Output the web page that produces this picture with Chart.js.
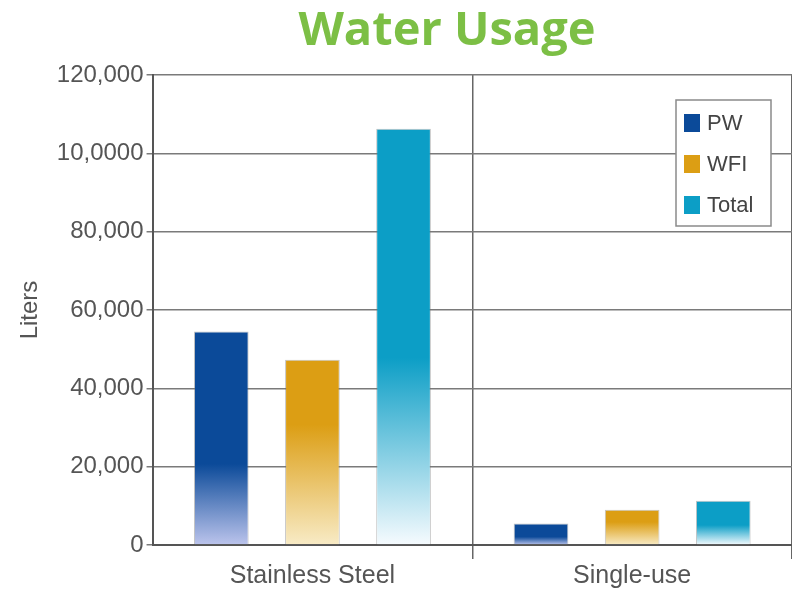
<!DOCTYPE html>
<html>
<head>
<meta charset="utf-8">
<script src="https://cdn.jsdelivr.net/npm/chart.js@4.4.1/dist/chart.umd.min.js"></script>
<style>
  html, body { margin: 0; padding: 0; background: #fff; }
  #wrap { width: 792px; height: 594px; position: relative; }
</style>
</head>
<body>
<div id="wrap"><canvas id="myChart"></canvas></div>
<script>
// Water usage data
const categories = ["Stainless Steel", "Single-use"];
const seriesNames = ["PW", "WFI", "Total"];
const pwValues = [54500, 5500];
const wfiValues = [47300, 9000];
const totalValues = [106300, 11300];
const yTickLabels = ["0", "20,000", "40,000", "60,000", "80,000", "10,0000", "120,000"];

// top colour, faded bottom colour, where the fade starts (0 = top of bar)
const barColors = [
  ["#0b4a99", "#bcc4ec", 0.62], // PW - dark blue
  ["#dc9e14", "#f8ebc6", 0.35], // WFI - gold
  ["#0c9ec6", "#f6fbfe", 0.55], // Total - cyan
];

function barFill(index) {
  return function (ctx) {
    const chart = ctx.chart;
    const c = barColors[index];
    if (!chart.chartArea || ctx.type !== "data") return c[0];
    const y = chart.scales.y;
    const top = y.getPixelForValue(ctx.raw);
    const bottom = y.getPixelForValue(0);
    if (bottom - top < 1) return c[0];
    const g = chart.ctx.createLinearGradient(0, top, 0, bottom);
    g.addColorStop(0, c[0]);
    g.addColorStop(c[2], c[0]);
    g.addColorStop(1, c[1]);
    return g;
  };
}

// title drawn above the plot, a bit right of the page centre like the original
const titlePlugin = {
  id: "waterTitle",
  afterDraw(chart) {
    const ctx = chart.ctx;
    ctx.save();
    ctx.fillStyle = "#7cbf45";
    ctx.font = "bold 47px 'Open Sans'";
    ctx.textAlign = "center";
    ctx.textBaseline = "middle";
    ctx.fillText("Water Usage", 447, 32);
    ctx.restore();
  },
};

// boxed legend inside the top right of the plot
const boxLegend = {
  id: "boxLegend",
  afterDraw(chart) {
    const ctx = chart.ctx;
    const area = chart.chartArea;
    const w = 95, h = 126;
    const x = area.right - 21 - w;
    const y = area.top + 25;
    ctx.save();
    ctx.fillStyle = "#fff";
    ctx.fillRect(x, y, w, h);
    ctx.strokeStyle = "#8a8a8a";
    ctx.lineWidth = 1.5;
    ctx.strokeRect(x, y, w, h);
    ctx.font = "22px 'Liberation Sans'";
    ctx.textBaseline = "middle";
    chart.data.datasets.forEach((ds, i) => {
      const cy = y + 23 + i * 41;
      ctx.fillStyle = barColors[i][0];
      ctx.fillRect(x + 8, cy - 9, 16, 18);
      ctx.fillStyle = "#444";
      ctx.fillText(ds.label, x + 31, cy + 1);
    });
    ctx.restore();
  },
};

const data = {
  labels: categories,
  datasets: [pwValues, wfiValues, totalValues].map((vals, i) => ({
    label: seriesNames[i],
    data: vals,
    backgroundColor: barFill(i),
    borderColor: "rgba(120,120,120,0.45)",
    borderWidth: 1,
    borderSkipped: "bottom",
    barPercentage: 0.6,
    categoryPercentage: 0.855,
  })),
};

const config = {
  type: "bar",
  data: data,
  plugins: [titlePlugin, boxLegend],
  options: {
    responsive: true,
    maintainAspectRatio: false,
    animation: false,
    layout: { padding: { top: 75, left: 16, right: 0, bottom: 0 } },
    plugins: {
      legend: { display: false },
      title: { display: false },
      tooltip: { enabled: false },
    },
    scales: {
      x: {
        grid: {
          offset: true,
          color: (c) => (c.index === 0 ? "rgba(0,0,0,0)" : "#666"),
          lineWidth: 1.5,
          drawTicks: true,
          tickLength: 14,
        },
        border: { color: "#555", width: 2 },
        ticks: {
          color: "#555",
          padding: 5,
          font: { family: "'Liberation Sans'", size: 25, lineHeight: 1 },
        },
      },
      y: {
        min: 0,
        max: 120000,
        ticks: {
          stepSize: 20000,
          color: "#555",
          padding: 3,
          font: { family: "'Liberation Sans'", size: 24 },
          callback: (value) => yTickLabels[Math.round(value / 20000)],
        },
        grid: { color: "#7a7a7a", lineWidth: 1.5, tickLength: 6 },
        border: { color: "#555", width: 2 },
        title: {
          display: true,
          text: "Liters",
          color: "#555",
          padding: { top: 0, bottom: 9 },
          font: { family: "'Liberation Sans'", size: 24 },
        },
      },
    },
  },
};

new Chart(document.getElementById("myChart"), config);
</script>
</body>
</html>
